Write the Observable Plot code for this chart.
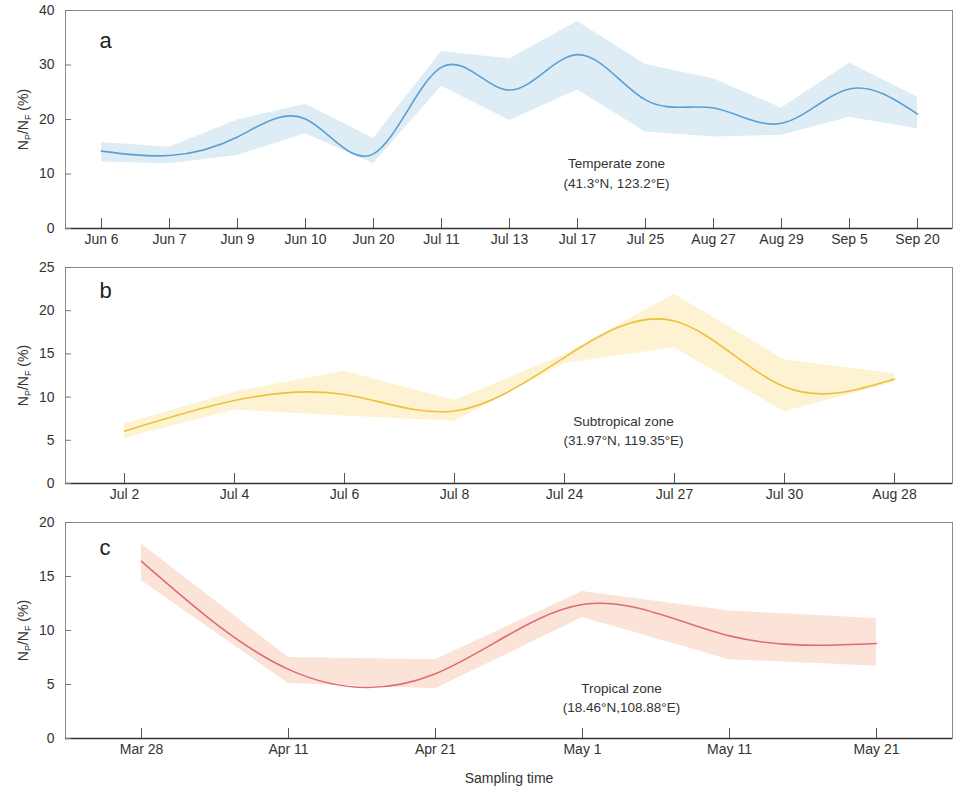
<!DOCTYPE html>
<html>
<head>
<meta charset="utf-8">
<script src="https://cdn.jsdelivr.net/npm/d3@7"></script>
<script src="https://cdn.jsdelivr.net/npm/@observablehq/plot@0.6"></script>
<style>
  html, body { margin: 0; padding: 0; background: #fff; }
  #chart svg { display: block; }
</style>
</head>
<body>
<div id="chart"></div>
<script>
// ---------- Panel a: Temperate zone ----------
const datesA = ["Jun 6","Jun 7","Jun 9","Jun 10","Jun 20","Jul 11","Jul 13","Jul 17","Jul 25","Aug 27","Aug 29","Sep 5","Sep 20"];
const meanA  = [14.2, 13.4, 16.8, 20.1, 13.7, 29.6, 25.4, 31.9, 23.6, 22.1, 19.3, 25.6, 21.0];
const lowA   = [12.2, 11.9, 13.4, 17.4, 11.9, 26.1, 19.8, 25.4, 17.7, 16.8, 17.1, 20.4, 18.3];
const highA  = [15.8, 14.9, 19.9, 22.8, 16.5, 32.5, 31.1, 38.0, 30.1, 27.5, 22.1, 30.3, 24.1];
const yTicksA = [0, 10, 20, 30, 40];

// ---------- Panel b: Subtropical zone ----------
const datesB = ["Jul 2","Jul 4","Jul 6","Jul 8","Jul 24","Jul 27","Jul 30","Aug 28"];
const meanB  = [6.05, 9.6, 10.3, 8.4, 14.6, 18.8, 11.2, 12.1];
const lowB   = [5.2, 8.5, 7.8, 7.2, 13.9, 15.7, 8.3, 11.7];
const highB  = [6.9, 10.6, 13.0, 9.6, 14.9, 21.9, 14.3, 12.7];
const yTicksB = [0, 5, 10, 15, 20, 25];

// ---------- Panel c: Tropical zone ----------
const datesC = ["Mar 28","Apr 11","Apr 21","May 1","May 11","May 21"];
const meanC  = [16.4, 6.4, 6.0, 12.4, 9.5, 8.8];
const lowC   = [14.6, 5.1, 4.6, 11.2, 7.3, 6.7];
const highC  = [18.0, 7.5, 7.3, 13.6, 11.8, 11.1];
const yTicksC = [0, 5, 10, 15, 20];

const panels = [
  {letter: "a", dates: datesA, mean: meanA, low: lowA, high: highA, yTicks: yTicksA,
   line: "#5b9fd1", band: "#deecf6", note: "Temperate zone\n(41.3°N, 123.2°E)", noteX: "Jul 17", noteDx: 39, noteY: 10.4,
   height: 250, mt: 10, mb: 22, letterDy: 30, xLabel: null},
  {letter: "b", dates: datesB, mean: meanB, low: lowB, high: highB, yTicks: yTicksB,
   line: "#eec13c", band: "#fdf2d2", note: "Subtropical zone\n(31.97°N, 119.35°E)", noteX: "Jul 24", noteDx: 59, noteY: 6.3,
   height: 260, mt: 17, mb: 27, letterDy: 23, xLabel: null},
  {letter: "c", dates: datesC, mean: meanC, low: lowC, high: highC, yTicks: yTicksC,
   line: "#e06b78", band: "#fbe3d7", note: "Tropical zone\n(18.46°N,108.88°E)", noteX: "May 1", noteDx: 39, noteY: 3.9,
   height: 291, mt: 12, mb: 63, letterDy: 25, xLabel: "Sampling time"}
];

const W = 960, ML = 65, MR = 8;
const container = document.getElementById("chart");

for (const p of panels) {
  const rows = p.dates.map((d, i) => ({date: d, mean: p.mean[i], low: p.low[i], high: p.high[i]}));
  const frameH = p.height - p.mt - p.mb;
  const frameW = W - ML - MR;
  const yMax = p.yTicks[p.yTicks.length - 1];
  const svg = Plot.plot({
    width: W,
    height: p.height,
    marginLeft: ML,
    marginRight: MR,
    marginTop: p.mt,
    marginBottom: p.mb,
    style: {fontFamily: "'Liberation Sans', Arial, sans-serif", fontSize: "14px", color: "#333", background: "#fff"},
    x: {type: "point", domain: p.dates, padding: 0.5},
    y: {domain: [0, yMax]},
    marks: [
      Plot.areaY(rows, {x: "date", y1: "low", y2: "high", fill: p.band, fillOpacity: 1}),
      Plot.line(rows, {x: "date", y: "mean", stroke: p.line, strokeWidth: 1.6, curve: "natural"}),
      Plot.frame({stroke: "#8a8a8a", strokeWidth: 1}),
      Plot.ruleY([0], {stroke: "#333", strokeWidth: 1.6}),
      Plot.ruleX(p.dates, {x: d => d, insetTop: frameH - 10, stroke: "#555", strokeWidth: 1}),
      Plot.ruleY(p.yTicks, {y: d => d, insetRight: frameW - 6, stroke: "#777", strokeWidth: 1}),
      Plot.axisX({tickSize: 0, tickPadding: 6, fontSize: 14, label: p.xLabel, labelAnchor: "center", labelOffset: 44, labelArrow: "none"}),
      Plot.axisY({ticks: p.yTicks, tickSize: 0, tickPadding: 11, fontSize: 14, label: "NP/NF (%)", labelAnchor: "center", labelOffset: 47, labelArrow: "none"}),
      Plot.text([p.letter], {text: d => d, frameAnchor: "top-left", dx: 34, dy: p.letterDy, fontSize: 22, textAnchor: "start", lineAnchor: "middle", fill: "#222"}),
      Plot.text([p.note], {text: d => d, x: () => p.noteX, y: () => p.noteY, dx: p.noteDx, fontSize: 13.5, lineHeight: 1.42, lineAnchor: "middle", textAnchor: "middle", fill: "#333"})
    ]
  });
  // rich y-axis label with subscripts
  const lab = d3.select(svg).select('g[aria-label="y-axis label"] text');
  if (!lab.empty()) {
    lab.text(null);
    const parts = [["N", 0, null], ["P", 3, 9], ["/N", -3, null], ["F", 3, 9], [" (%)", -3, null]];
    for (const [t, dy, fs] of parts) {
      const ts = lab.append("tspan").text(t);
      if (dy) ts.attr("dy", dy);
      if (fs) ts.attr("font-size", fs);
    }
  }
  container.appendChild(svg);
}
</script>
</body>
</html>
